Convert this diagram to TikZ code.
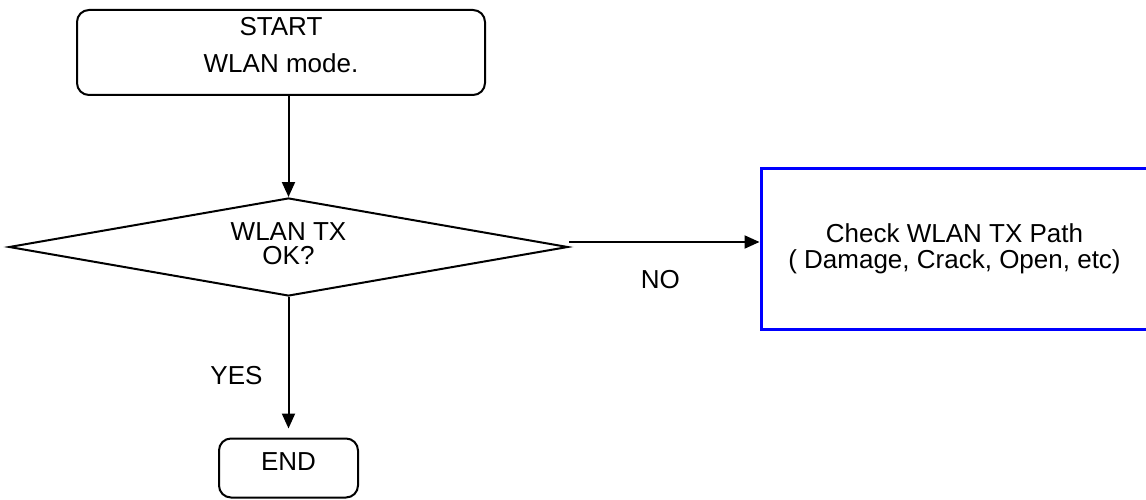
\documentclass[tikz,border=0pt]{standalone}
\usepackage{fontspec}
\setmainfont{Liberation Sans}
\usetikzlibrary{arrows.meta}
\usetikzlibrary{shapes.geometric}

\begin{document}
\begin{tikzpicture}[x=1pt,y=-1pt,->,>={Triangle[length=15pt,width=13pt]},
  line width=2pt,node distance=3cm,
  term node/.style={rectangle,rounded corners=12pt,draw,align=center,font=\fontsize{26}{26}\selectfont},
  dec node/.style={diamond,aspect=5.7,inner sep=0pt,draw,align=center,font=\fontsize{26}{26}\selectfont,
    minimum width=559pt,minimum height=98pt},
  task node/.style={rectangle,draw=blue,line width=3pt,align=center,font=\fontsize{26}{26}\selectfont,
    minimum width=387pt,minimum height=160pt}]

  \useasboundingbox (0,0) rectangle (1146,500);

  \node[dec node] (dia) at (288.5,247) {WLAN TX\\[-2pt]OK?\rule[-6pt]{0pt}{6pt}};
  \node[term node,minimum width=408pt,minimum height=85pt] (start) [above of=dia,node distance=194.5pt,xshift=-7.5pt]
    {START\\[11pt]WLAN mode.\rule[-15pt]{0pt}{15pt}};
  \node[term node,minimum width=139pt,minimum height=59pt] (end) [below of=dia,node distance=221pt]
    {END\rule[-12pt]{0pt}{12pt}};
  \node[task node] (check) [right of=dia,node distance=666pt,yshift=-2pt]
    {Check WLAN TX Path\\( Damage, Crack, Open, etc)\rule[-4pt]{0pt}{4pt}};

  \path[every node/.style={font=\fontsize{26}{26}\selectfont,inner sep=2pt}]
    (start.south -| dia.north) edge (dia.north)
    (dia.south) edge [shorten >=9pt] node[pos=.56,left=23pt] (yes) {YES} (end)
    ([yshift=5pt]dia.east) edge node[pos=.48,below=25pt] (no) {NO} ([yshift=5pt]dia.east -| check.west);
\end{tikzpicture}
\end{document}
